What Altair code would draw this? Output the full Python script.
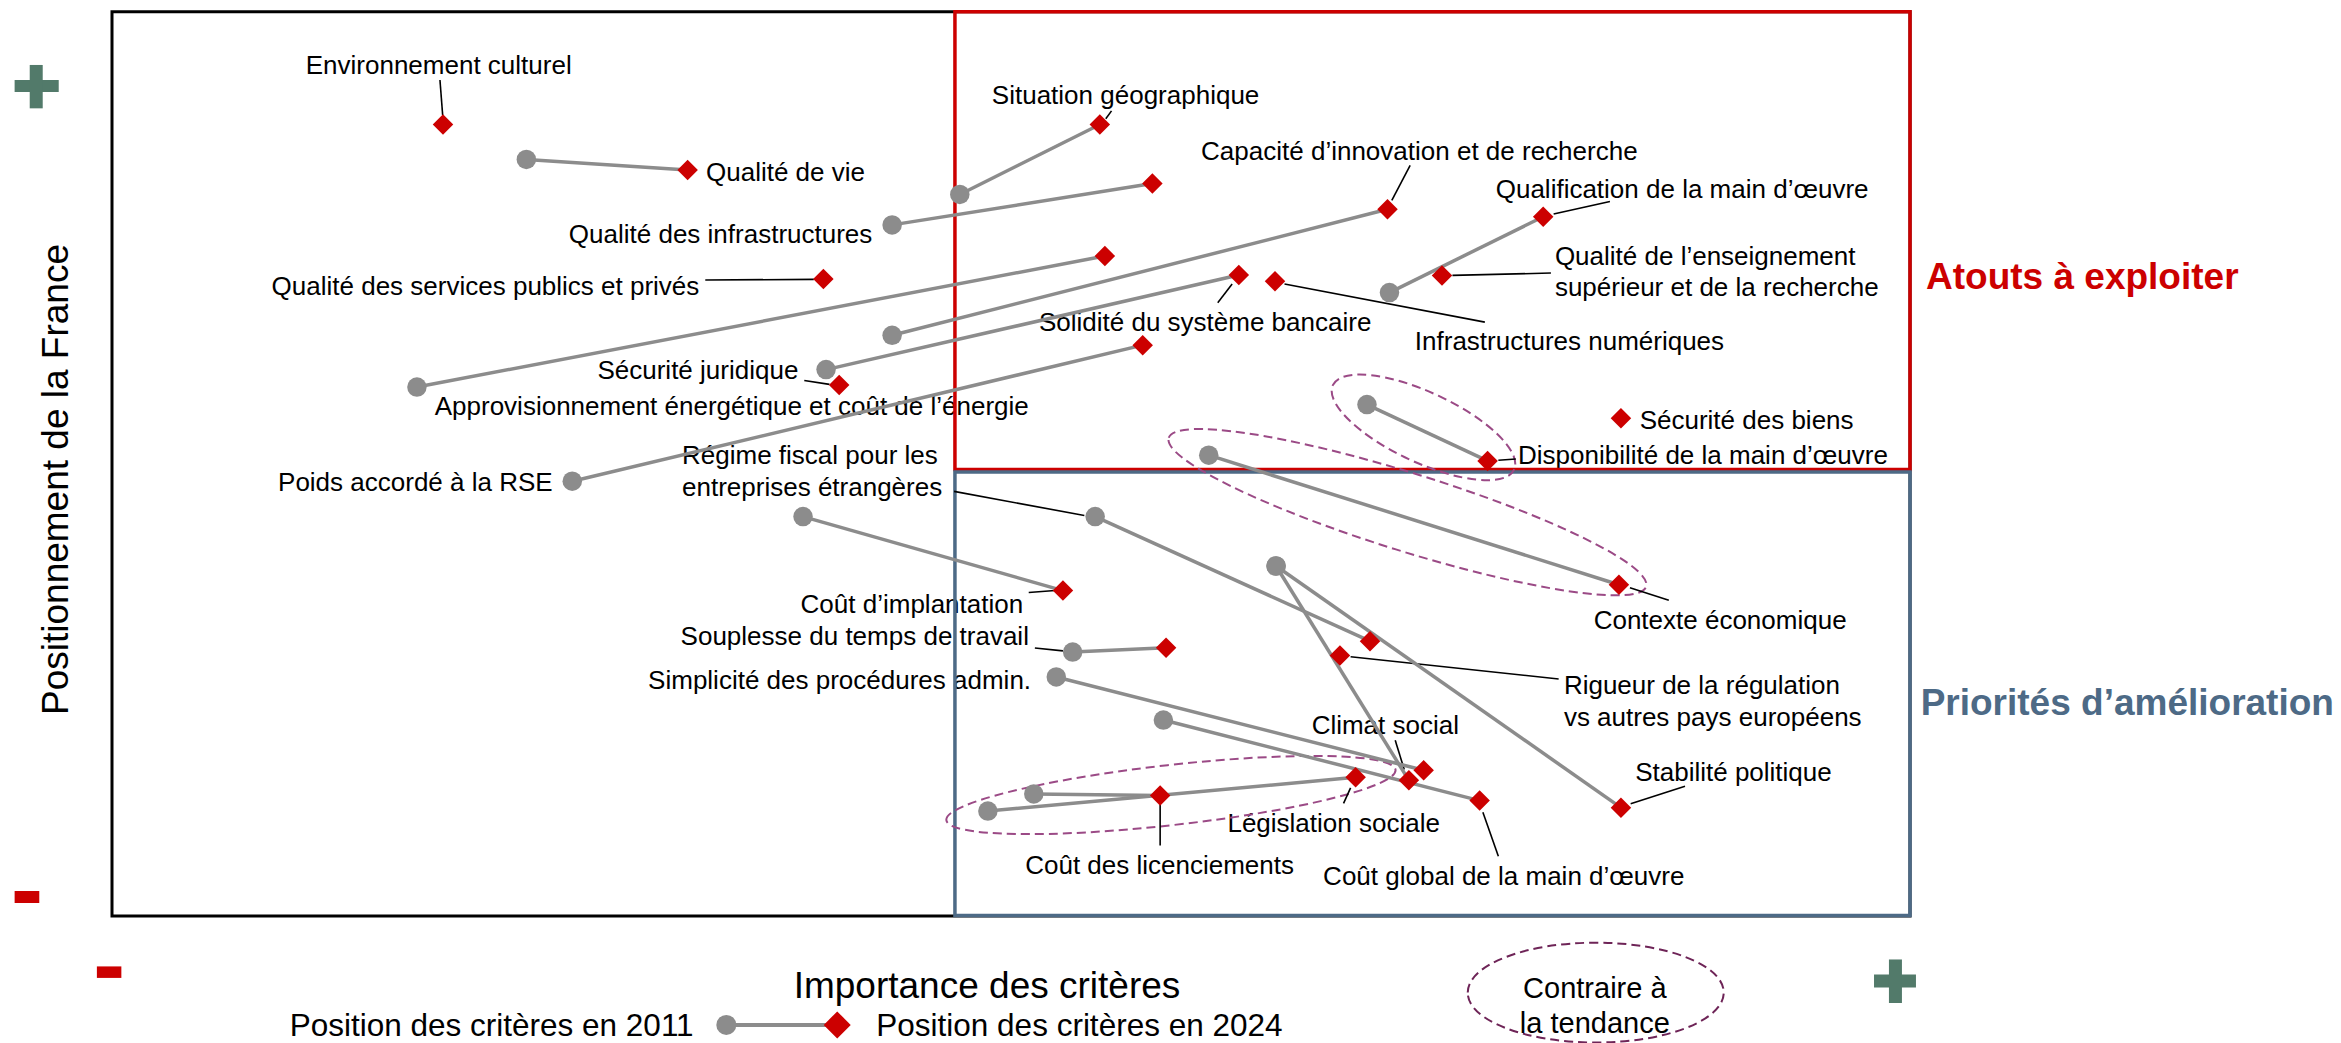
import altair as alt
import pandas as pd

# ---------------- data (importance 0-100, positionnement 0-100) ----------------
criteria = [
    "Environnement culturel", "Qualité de vie", "Situation géographique", "Qualité des infrastructures",
    "Capacité d’innovation et de recherche", "Qualification de la main d’œuvre",
    "Qualité de l’enseignement supérieur et de la recherche", "Qualité des services publics et privés",
    "Solidité du système bancaire", "Infrastructures numériques", "Sécurité juridique",
    "Approvisionnement énergétique et coût de l’énergie", "Poids accordé à la RSE", "Sécurité des biens",
    "Disponibilité de la main d’œuvre", "Contexte économique", "Régime fiscal pour les entreprises étrangères",
    "Coût d’implantation", "Souplesse du temps de travail", "Simplicité des procédures admin.",
    "Rigueur de la régulation vs autres pays européens", "Climat social", "Stabilité politique",
    "Coût global de la main d’œuvre", "Coût des licenciements", "Législation sociale",
]
imp_2011 = [None, 23.02, 47.10, 43.34, 43.34, 70.97, None, None, 39.67, None, None, 16.94, 25.57, None,
            69.72, 60.93, 54.62, 38.39, 53.37, 52.46, None, 64.67, 64.67, 58.41, 51.21, 48.66]
pos_2011 = [None, 84.06, 80.17, 76.79, 64.52, 69.27, None, None, 60.71, None, None, 58.77, 48.31, None,
            56.82, 51.20, 44.38, 44.38, 29.33, 26.56, None, 38.89, 38.89, 21.77, 13.56, 11.66]
imp_2024 = [18.39, 31.98, 54.88, 57.80, 70.86, 79.51, 73.89, 39.52, 62.60, 64.61, 40.40, 55.16, 57.26, 83.83,
            76.42, 83.72, 69.89, 52.83, 58.56, 72.87, 68.22, 72.05, 83.83, 75.98, 58.23, 69.09]
pos_2024 = [87.94, 82.89, 87.94, 81.38, 78.52, 77.70, 71.18, 70.79, 71.22, 70.52, 58.99, 73.33, 63.43, 55.31,
            50.56, 36.81, 30.54, 36.16, 29.81, 16.19, 28.94, 15.07, 12.04, 12.82, 13.38, 15.41]

# ---------------- point labels ----------------
label_text = [
    "Environnement culturel", "Qualité de vie", "Qualité des infrastructures", "Situation géographique",
    "Capacité d’innovation et de recherche", "Qualification de la main d’œuvre",
    "Qualité de l’enseignement", "supérieur et de la recherche",
    "Qualité des services publics et privés", "Solidité du système bancaire", "Infrastructures numériques",
    "Sécurité juridique", "Approvisionnement énergétique et coût de l’énergie", "Poids accordé à la RSE",
    "Régime fiscal pour les", "entreprises étrangères", "Coût d’implantation", "Souplesse du temps de travail",
    "Simplicité des procédures admin.", "Contexte économique", "Rigueur de la régulation",
    "vs autres pays européens", "Climat social", "Stabilité politique", "Législation sociale",
    "Coût des licenciements", "Coût global de la main d’œuvre", "Disponibilité de la main d’œuvre",
    "Sécurité des biens",
]
label_x = [18.15, 33.0, 42.24, 56.31, 72.63, 87.23, 80.16, 80.16, 32.63, 60.73, 80.97, 38.13, 17.93, 24.48,
           31.67, 31.67, 50.62, 50.94, 51.06, 89.34, 80.66, 80.66, 70.74, 90.08, 67.87, 58.2, 77.32, 78.11, 84.87]
label_y = [94.64, 82.78, 75.93, 91.28, 85.09, 80.94, 73.47, 70.0, 70.09, 66.11, 64.04, 60.8, 56.82, 48.31,
           51.29, 47.74, 34.78, 31.19, 26.34, 33.04, 25.79, 22.24, 21.33, 16.06, 10.44, 5.81, 4.6, 51.33, 55.18]
label_align = ["center", "left", "right", "center", "center", "center", "left", "left", "right", "center",
               "center", "right", "left", "right", "left", "left", "right", "right", "right", "center",
               "left", "left", "center", "center", "center", "center", "center", "left", "left"]

# leader lines (label -> marker)
leader_x1 = [18.22, 55.53, 72.12, 80.09, 74.47, 32.96, 61.43, 65.14, 38.46, 46.78, 50.93, 51.27, 77.02,
             84.33, 68.81, 71.29, 84.37, 76.16, 58.23, 68.42]
leader_y1 = [92.89, 89.46, 83.41, 78.0, 71.18, 70.66, 68.14, 70.22, 59.5, 47.18, 35.94, 29.77, 50.64,
             36.47, 28.81, 19.52, 12.48, 11.52, 12.39, 12.51]
leader_x2 = [18.37, 55.21, 71.1, 83.22, 79.94, 38.99, 62.23, 76.27, 39.86, 54.02, 52.39, 52.83, 77.99,
             86.49, 80.37, 71.79, 87.39, 77.02, 58.23, 68.81]
leader_y2 = [89.0, 88.59, 79.52, 79.39, 71.44, 70.74, 70.22, 65.99, 59.07, 44.5, 36.16, 29.46, 50.78,
             35.08, 26.34, 16.28, 14.42, 6.63, 7.84, 14.24]

# "contraire à la tendance" ellipses (centre in data units)
ell_x = [72.86, 71.97, 58.83, 82.43]
ell_y = [54.29, 44.87, 13.44, -8.51]
ell_semi_px = [100, 250, 226, 128]
ell_ratio = [0.35, 0.156, 0.133, 0.39]
ell_angle = [25, 17.3, 353.6, 0]
ell_color = ["#9B4A86", "#9B4A86", "#9B4A86", "#6E2457"]

# quadrant frames
box_x = [0, 46.83, 46.83]
box_x2 = [99.89, 99.89, 99.89]
box_y = [0, 49.61, 0.06]
box_y2 = [100.48, 100.48, 49.33]
box_color = ["#000000", "#CC0000", "#4D6A86"]
box_width = [3, 3.5, 3.5]

# + / - signs
sign_x = [-5.41, -4.21, 97.89, 99.08, -5.41, -0.84]
sign_x2 = [-2.96, -4.21, 100.22, 99.08, -4.04, 0.52]
sign_y = [92.22, 94.56, -7.22, -4.83, 2.11, -6.24]
sign_y2 = [92.22, 89.74, -7.22, -9.67, 2.11, -6.24]
sign_color = ["#527A6A", "#527A6A", "#527A6A", "#527A6A", "#CC0000", "#CC0000"]
sign_width = [12, 13, 13, 13, 12, 11.5]

FONT = "Liberation Sans"
GRAY = "#8C8C8C"
RED = "#CC0000"

XS = alt.Scale(domain=[0, 100], nice=False, zero=False)
YS = alt.Scale(domain=[0, 100], nice=False, zero=False)


def X(f):
    return alt.X(f"{f}:Q", scale=XS, axis=None)


def Y(f):
    return alt.Y(f"{f}:Q", scale=YS, axis=None)


def ellipse_path(k):
    c = 0.5523
    return (f"M -1 0 C -1 {-c*k:.4f} {-c:.4f} {-k:.4f} 0 {-k:.4f} "
            f"C {c:.4f} {-k:.4f} 1 {-c*k:.4f} 1 0 "
            f"C 1 {c*k:.4f} {c:.4f} {k:.4f} 0 {k:.4f} "
            f"C {-c:.4f} {k:.4f} -1 {c*k:.4f} -1 0 Z")


pts = pd.DataFrame({"name": criteria, "x0": imp_2011, "y0": pos_2011, "x1": imp_2024, "y1": pos_2024})
seg = pts.dropna(subset=["x0"]).reset_index(drop=True)
lab = pd.DataFrame({"t": label_text, "x": label_x, "y": label_y, "a": label_align})
lead = pd.DataFrame({"x": leader_x1, "y": leader_y1, "x2": leader_x2, "y2": leader_y2})
ell = pd.DataFrame({
    "x": ell_x, "y": ell_y,
    "shape": [ellipse_path(r) for r in ell_ratio],
    "size": [(2 * a) ** 2 for a in ell_semi_px],
    "angle": ell_angle, "col": ell_color,
})
boxes = pd.DataFrame({"x": box_x, "x2": box_x2, "y": box_y, "y2": box_y2, "col": box_color, "sw": box_width})
signs = pd.DataFrame({"x": sign_x, "x2": sign_x2, "y": sign_y, "y2": sign_y2, "col": sign_color, "sw": sign_width})

layers = []

# labels (under frames and lines)
for a in ["left", "center", "right"]:
    layers.append(
        alt.Chart(lab[lab.a == a]).mark_text(align=a, baseline="middle", font=FONT, fontSize=26,
                                             color="#000000", dy=2)
        .encode(x=X("x"), y=Y("y"), text="t:N")
    )

# quadrant frames
layers.append(
    alt.Chart(boxes).mark_rect(fill="transparent")
    .encode(x=X("x"), x2="x2:Q", y=Y("y"), y2="y2:Q",
            stroke=alt.Stroke("col:N", scale=None), strokeWidth=alt.StrokeWidth("sw:Q", scale=None))
)

# ellipses
layers.append(
    alt.Chart(ell).mark_point(filled=False, strokeWidth=2, strokeDash=[9, 5], opacity=1)
    .encode(x=X("x"), y=Y("y"),
            shape=alt.Shape("shape:N", scale=None), size=alt.Size("size:Q", scale=None),
            angle=alt.Angle("angle:Q", scale=None), color=alt.Color("col:N", scale=None))
)

# leader lines
layers.append(
    alt.Chart(lead).mark_rule(color="#000000", strokeWidth=1.6)
    .encode(x=X("x"), y=Y("y"), x2="x2:Q", y2="y2:Q")
)

# 2011 -> 2024 connectors
layers.append(
    alt.Chart(seg).mark_rule(color=GRAY, strokeWidth=3.5)
    .encode(x=X("x0"), y=Y("y0"), x2="x1:Q", y2="y1:Q")
)
layers.append(
    alt.Chart(seg).mark_point(shape="circle", filled=True, size=380, color=GRAY, opacity=1)
    .encode(x=X("x0"), y=Y("y0"))
)
layers.append(
    alt.Chart(pts).mark_point(shape="diamond", filled=True, size=420, color=RED, opacity=1)
    .encode(x=X("x1"), y=Y("y1"))
)

# + / - signs
layers.append(
    alt.Chart(signs).mark_rule()
    .encode(x=X("x"), y=Y("y"), x2="x2:Q", y2="y2:Q",
            color=alt.Color("col:N", scale=None), strokeWidth=alt.StrokeWidth("sw:Q", scale=None))
)

# titles & quadrant names
def single_text(t, x, y, **kw):
    d = pd.DataFrame({"t": [t], "x": [x], "y": [y]})
    base = dict(baseline="middle", font=FONT, dy=2)
    base.update(kw)
    return alt.Chart(d).mark_text(**base).encode(x=X("x"), y=Y("y"), text="t:N")


layers.append(single_text("Importance des critères", 48.61, -7.71, align="center", fontSize=37, color="#000000"))
layers.append(single_text("Positionnement de la France", -3.15, 48.5, align="center", fontSize=37,
                          color="#000000", angle=270))
layers.append(single_text("Atouts à exploiter", 100.78, 71.11, align="left", fontSize=37,
                          fontWeight="bold", color=RED))
layers.append(single_text("Priorités d’amélioration", 100.48, 23.81, align="left", fontSize=37,
                          fontWeight="bold", color="#4D6A86"))

# legend
LEG_Y = -12.1
layers.append(single_text("Position des critères en 2011", 32.31, LEG_Y, align="right", fontSize=31.5,
                          color="#000000"))
layers.append(single_text("Position des critères en 2024", 42.46, LEG_Y, align="left", fontSize=31.5,
                          color="#000000"))
layers.append(single_text("Contraire à", 82.38, -7.93, align="center", fontSize=29, color="#000000"))
layers.append(single_text("la tendance", 82.38, -11.82, align="center", fontSize=29, color="#000000"))

leg = pd.DataFrame({"x": [34.13], "y": [LEG_Y], "x2": [40.29]})
layers.append(alt.Chart(leg).mark_rule(color=GRAY, strokeWidth=4).encode(x=X("x"), y=Y("y"), x2="x2:Q", y2="y:Q"))
layers.append(alt.Chart(leg).mark_point(shape="circle", filled=True, size=400, color=GRAY, opacity=1)
              .encode(x=X("x"), y=Y("y")))
layers.append(alt.Chart(leg).mark_point(shape="diamond", filled=True, size=729, color=RED, opacity=1)
              .encode(x=X("x2"), y=Y("y")))

chart = alt.layer(*layers).properties(
    width=1800, height=900,
    padding={"left": 104, "top": 8, "right": 421, "bottom": 127},
    autosize=alt.AutoSizeParams(type="none"),
).configure_view(strokeWidth=0)

chart.save("out.html", embed_options={"renderer": "svg", "actions": False})
